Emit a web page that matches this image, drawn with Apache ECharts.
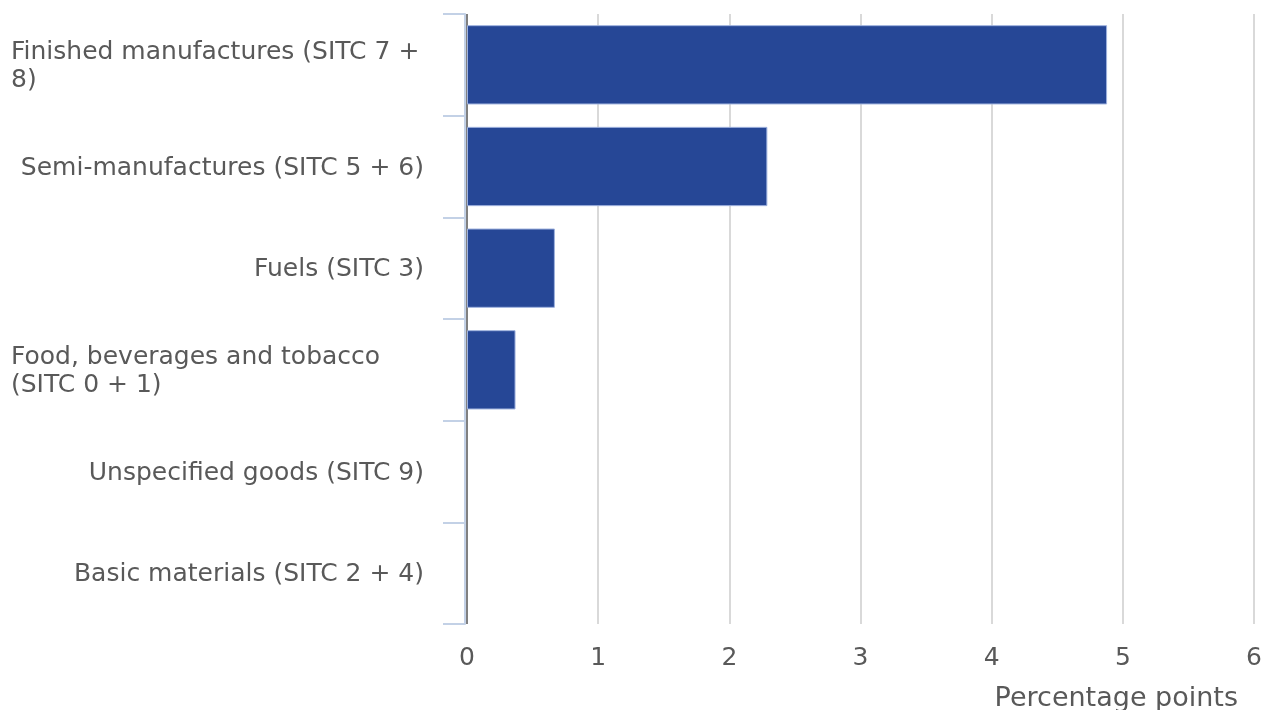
<!DOCTYPE html>
<html>
<head>
<meta charset="utf-8">
<script src="https://cdn.jsdelivr.net/npm/echarts@6/dist/echarts.min.js"></script>
<style>
html,body{margin:0;padding:0;background:#fff;}
#chart{width:1268px;height:710px;}
</style>
</head>
<body>
<div id="chart"></div>
<script>
var categories = [
  'Finished manufactures (SITC 7 + 8)',
  'Semi-manufactures (SITC 5 + 6)',
  'Fuels (SITC 3)',
  'Food, beverages and tobacco (SITC 0 + 1)',
  'Unspecified goods (SITC 9)',
  'Basic materials (SITC 2 + 4)'
];
var values = [4.88, 2.29, 0.67, 0.37, 0, 0];
var xTicks = [0, 1, 2, 3, 4, 5, 6];
var axisTitle = 'Percentage points';

var FONT = '"DejaVu Sans", Verdana, sans-serif';
var LABEL_SIZE = 25;
var LABEL_W = 422;
var ctx = document.createElement('canvas').getContext('2d');
ctx.font = LABEL_SIZE + 'px ' + FONT;

var barData = values.map(function (v) {
  return v === 0 ? {value: v, itemStyle: {borderWidth: 0}} : {value: v};
});

var chart = echarts.init(document.getElementById('chart'));
chart.setOption({
  animation: false,
  grid: {left: 467, right: 14, top: 14, bottom: 86, containLabel: false, outerBoundsMode: 'none'},
  xAxis: {
    type: 'value',
    min: xTicks[0],
    max: xTicks[xTicks.length - 1],
    interval: 1,
    axisLine: {show: false},
    axisTick: {show: false},
    axisLabel: {color: '#595959', fontSize: LABEL_SIZE, fontFamily: FONT, margin: 22},
    splitLine: {
      show: true,
      showMinLine: true,
      lineStyle: {width: 2, color: ['#808080', '#d9d9d9', '#d9d9d9', '#d9d9d9', '#d9d9d9', '#d9d9d9', '#d9d9d9']}
    },
    name: axisTitle,
    nameLocation: 'end',
    nameGap: -16,
    nameTextStyle: {color: '#595959', fontSize: 27, fontFamily: FONT, align: 'right', verticalAlign: 'top', padding: [61, 0, 0, 0]}
  },
  yAxis: {
    type: 'category',
    data: categories,
    inverse: true,
    offset: 2,
    axisLine: {show: true, onZero: false, lineStyle: {color: '#c3d1e6', width: 2}},
    axisTick: {show: true, length: 22, lineStyle: {color: '#c3d1e6', width: 2}},
    splitLine: {show: false},
    axisLabel: {
      margin: 454,
      align: 'left',
      width: LABEL_W,
      overflow: 'break',
      lineHeight: 28,
      padding: [3, 0, 0, 0],
      color: '#595959',
      fontSize: LABEL_SIZE,
      fontFamily: FONT,
      formatter: function (v) {
        var w = ctx.measureText(v).width;
        return w > LABEL_W ? '{l|' + v + '}' : '{r|' + v + '}';
      },
      rich: {
        l: {align: 'left', color: '#595959', fontSize: LABEL_SIZE, fontFamily: FONT, lineHeight: 28},
        r: {align: 'right', color: '#595959', fontSize: LABEL_SIZE, fontFamily: FONT, lineHeight: 28, padding: [0, 9, 0, 0]}
      }
    }
  },
  series: [{
    type: 'bar',
    data: barData,
    barCategoryGap: '22%',
    itemStyle: {color: '#264796', borderColor: '#9fb2de', borderWidth: 1},
    silent: true
  }]
});
</script>
</body>
</html>
